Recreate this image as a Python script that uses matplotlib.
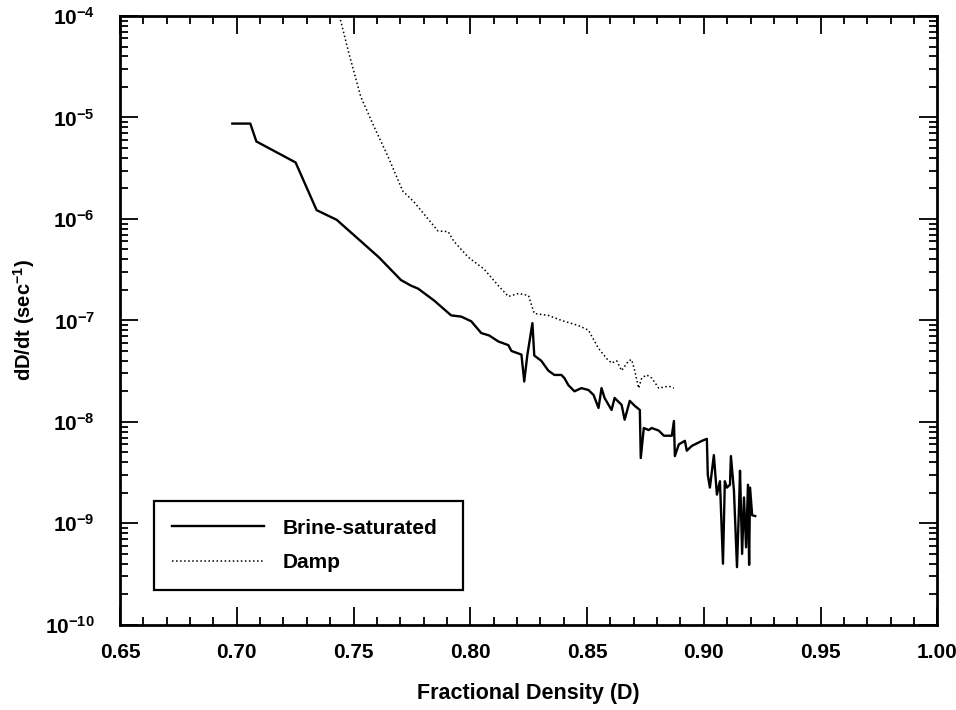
import matplotlib
matplotlib.use("Agg")
import matplotlib.pyplot as plt
from matplotlib.ticker import MultipleLocator, LogLocator, NullFormatter

plt.rcParams['font.family'] = ['Liberation Sans', 'DejaVu Sans']
plt.rcParams['font.weight'] = 'bold'
plt.rcParams['mathtext.fontset'] = 'custom'
plt.rcParams['mathtext.rm'] = 'Liberation Sans:bold'
plt.rcParams['mathtext.it'] = 'Liberation Sans:bold'
plt.rcParams['mathtext.bf'] = 'Liberation Sans:bold'

# brine-saturated creep rate curve
brine_d = [0.6981, 0.7058, 0.7084, 0.7252, 0.7342, 0.7428, 0.7608, 0.7703, 0.7746, 0.7776,
           0.7845, 0.7918, 0.7961, 0.8004, 0.8047, 0.8081, 0.8120, 0.8163, 0.8176, 0.8219,
           0.8231, 0.8244, 0.8266, 0.8274, 0.8304, 0.8334, 0.8360, 0.8390, 0.8403, 0.8420,
           0.8446, 0.8476, 0.8506, 0.8528, 0.8549, 0.8562, 0.8575, 0.8605, 0.8618, 0.8648,
           0.8661, 0.8683, 0.8704, 0.8726, 0.8730, 0.8743, 0.8764, 0.8777, 0.8807, 0.8829,
           0.8863, 0.8872, 0.8876, 0.8893, 0.8919, 0.8927, 0.8949, 0.8992, 0.9013, 0.9017,
           0.9026, 0.9043, 0.9056, 0.9069, 0.9082, 0.9090, 0.9099, 0.9112, 0.9116, 0.9129,
           0.9142, 0.9151, 0.9155, 0.9164, 0.9172, 0.9181, 0.9189, 0.9194, 0.9198, 0.9207,
           0.9220]
brine_rate = [8.7e-6, 8.7e-6, 5.8e-6, 3.6e-6, 1.22e-6, 9.8e-7, 4.2e-7, 2.5e-7, 2.2e-7, 2.06e-7,
              1.57e-7, 1.12e-7, 1.09e-7, 9.8e-8, 7.5e-8, 7.1e-8, 6.2e-8, 5.7e-8, 5.0e-8, 4.6e-8,
              2.5e-8, 4.5e-8, 9.4e-8, 4.5e-8, 4.0e-8, 3.2e-8, 2.9e-8, 2.9e-8, 2.7e-8, 2.3e-8,
              2.0e-8, 2.15e-8, 2.06e-8, 1.84e-8, 1.37e-8, 2.15e-8, 1.72e-8, 1.31e-8, 1.72e-8, 1.47e-8,
              1.05e-8, 1.61e-8, 1.44e-8, 1.31e-8, 4.4e-9, 8.7e-9, 8.3e-9, 8.7e-9, 8.2e-9, 7.3e-9,
              7.3e-9, 1.02e-8, 4.6e-9, 6.0e-9, 6.5e-9, 5.2e-9, 5.8e-9, 6.5e-9, 6.8e-9, 3.0e-9,
              2.25e-9, 4.7e-9, 1.92e-9, 2.6e-9, 4.0e-10, 2.6e-9, 2.25e-9, 2.4e-9, 4.6e-9, 2.1e-9,
              3.7e-10, 1.53e-9, 3.3e-9, 5.0e-10, 1.8e-9, 5.8e-10, 2.4e-9, 3.9e-10, 2.25e-9, 1.2e-9,
              1.18e-9]

# damp creep rate curve
damp_d = [0.7440, 0.7480, 0.7531, 0.7587, 0.7647, 0.7711, 0.7759, 0.7819, 0.7862, 0.7905,
          0.7930, 0.7991, 0.8059, 0.8120, 0.8163, 0.8206, 0.8249, 0.8274, 0.8334, 0.8390,
          0.8463, 0.8506, 0.8549, 0.8584, 0.8605, 0.8627, 0.8648, 0.8678, 0.8691, 0.8704,
          0.8721, 0.8734, 0.8755, 0.8777, 0.8807, 0.8850, 0.8872]
damp_rate = [1.0e-4, 4.3e-5, 1.6e-5, 8.2e-6, 4.15e-6, 1.88e-6, 1.47e-6, 1.0e-6, 7.6e-7, 7.5e-7,
             6.0e-7, 4.2e-7, 3.2e-7, 2.2e-7, 1.72e-7, 1.84e-7, 1.76e-7, 1.17e-7, 1.12e-7, 1.0e-7,
             8.9e-8, 8.0e-8, 5.3e-8, 4.2e-8, 3.8e-8, 4.0e-8, 3.2e-8, 4.0e-8, 4.1e-8, 3.2e-8,
             2.15e-8, 2.7e-8, 2.9e-8, 2.7e-8, 2.15e-8, 2.25e-8, 2.15e-8]

fig = plt.figure(figsize=(9.56, 7.10), dpi=100)
ax = fig.add_axes([0.1255, 0.12, 0.855, 0.8575])

ax.plot(brine_d, brine_rate, color='black', lw=1.7, label='Brine-saturated')
ax.plot(damp_d, damp_rate, color='black', lw=1.1, ls=':', label='Damp')

ax.set_yscale('log')
ax.set_xlim(0.65, 1.00)
ax.set_ylim(1e-10, 1e-4)

ax.xaxis.set_major_locator(MultipleLocator(0.05))
ax.xaxis.set_minor_locator(MultipleLocator(0.01))
ax.xaxis.set_major_formatter(plt.FormatStrFormatter('%.2f'))
ax.xaxis.set_minor_formatter(NullFormatter())
ax.yaxis.set_major_locator(LogLocator(base=10, numticks=10))
ax.yaxis.set_minor_locator(LogLocator(base=10, subs=range(2, 10), numticks=20))
ax.yaxis.set_minor_formatter(NullFormatter())
ax.xaxis.get_offset_text().set_visible(False)
ax.yaxis.get_offset_text().set_visible(False)

ax.tick_params(which='both', direction='in', top=True, right=True, width=1.3,
               labelsize=15)
ax.tick_params(axis='x', which='major', pad=13)
ax.tick_params(axis='y', which='major', pad=18)
ax.tick_params(which='major', length=13)
ax.tick_params(which='minor', length=6)
for s in ax.spines.values():
    s.set_linewidth(2)

ax.set_xlabel('Fractional Density (D)', fontsize=15.5, fontweight='bold', labelpad=15)
ax.set_ylabel('dD/dt (sec$^{-1}$)', fontsize=14.5, fontweight='bold', labelpad=6)

leg = ax.legend(loc='lower left', bbox_to_anchor=(0.042, 0.057, 0.378, 0.145), mode='expand',
                fontsize=15, handlelength=4.4, borderpad=0.85, labelspacing=0.75,
                handletextpad=0.9, borderaxespad=0, fancybox=False, framealpha=1,
                edgecolor='black')
leg.get_frame().set_linewidth(1.6)
for t in leg.get_texts():
    t.set_fontweight('bold')

fig.savefig('out.png', dpi=100)
